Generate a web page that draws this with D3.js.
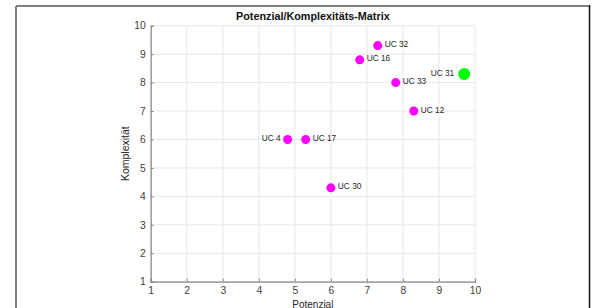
<!DOCTYPE html>
<html><head><meta charset="utf-8">
<script src="https://cdn.jsdelivr.net/npm/d3@7"></script>
<style>body{margin:0;background:#fff;} svg{display:block;font-family:"Liberation Sans",Arial,Helvetica,sans-serif;}</style>
</head><body>
<svg id="c" width="598" height="308"></svg>
<script>
const labels = ["UC 4","UC 17","UC 32","UC 16","UC 33","UC 31","UC 12","UC 30"];
const potenzial = [4.8, 5.3, 7.3, 6.8, 7.8, 9.7, 8.3, 6.0];
const komplexitaet = [6.0, 6.0, 9.3, 8.8, 8.0, 8.3, 7.0, 4.3];
const highlighted = [false,false,false,false,false,true,false,false];
const labelSide = ["left","right","right","right","right","left","right","right"];
const xTicks = [1,2,3,4,5,6,7,8,9,10];
const yTicks = [1,2,3,4,5,6,7,8,9,10];
const title = "Potenzial/Komplexitäts-Matrix";
const xTitle = "Potenzial";
const yTitle = "Komplexität";

const svg = d3.select("#c");
// figure frame
svg.append("line").attr("x1",16).attr("y1",6).attr("x2",16).attr("y2",308).attr("stroke","#808080").attr("stroke-width",2);
svg.append("line").attr("x1",16).attr("y1",6).attr("x2",590).attr("y2",6).attr("stroke","#808080").attr("stroke-width",2);
svg.append("line").attr("x1",589.5).attr("y1",5).attr("x2",589.5).attr("y2",308).attr("stroke","#111").attr("stroke-width",1.5);

const L=150.7, R=475, T=25.7, B=281.7;
const x = d3.scaleLinear().domain([1,10]).range([L,R]);
const y = d3.scaleLinear().domain([1,10]).range([B,T]);

const g = svg.append("g");
// grid
g.selectAll(".gx").data(xTicks).join("line").attr("x1",d=>x(d)).attr("x2",d=>x(d)).attr("y1",T).attr("y2",B).attr("stroke","#e6e6e6").attr("stroke-width",1);
g.selectAll(".gy").data(yTicks).join("line").attr("y1",d=>y(d)).attr("y2",d=>y(d)).attr("x1",L).attr("x2",R).attr("stroke","#e6e6e6").attr("stroke-width",1);

// axes
const xa = svg.append("g").attr("transform",`translate(0,${B})`).call(d3.axisBottom(x).tickValues(xTicks).tickSize(-3).tickPadding(5).tickFormat(d3.format("d")));
const ya = svg.append("g").attr("transform",`translate(${L},0)`).call(d3.axisLeft(y).tickValues(yTicks).tickSize(-3).tickPadding(5).tickFormat(d3.format("d")));
[xa,ya].forEach(a=>{
  a.select(".domain").attr("stroke","#8a8a8a").attr("stroke-width",1.2);
  a.selectAll(".tick line").attr("stroke","#8a8a8a").attr("stroke-width",1);
  a.selectAll("text").attr("fill","#404040").attr("font-size",10.3).attr("font-family","Liberation Sans, Arial, sans-serif");
});

// points
const data = labels.map((l,i)=>({l, px:potenzial[i], py:komplexitaet[i], h:highlighted[i], side:labelSide[i]}));
svg.selectAll("circle.pt").data(data).join("circle").attr("class","pt")
  .attr("cx",d=>x(d.px)).attr("cy",d=>y(d.py))
  .attr("r",d=>d.h?6:4.5).attr("fill",d=>d.h?"#00ff00":"#ff00ff");
svg.selectAll("text.lbl").data(data).join("text").attr("class","lbl")
  .attr("x",d=>x(d.px)+(d.side==="left"?-(d.h?10:7):7))
  .attr("y",d=>y(d.py)+1.5)
  .attr("text-anchor",d=>d.side==="left"?"end":"start")
  .attr("font-size",8.3).attr("fill","#262626").text(d=>d.l);

// titles
svg.append("text").attr("x",(L+R)/2).attr("y",20).attr("text-anchor","middle").attr("font-weight","bold").attr("font-size",10.8).attr("fill","#111").text(title);
svg.append("text").attr("x",(L+R)/2).attr("y",307.5).attr("text-anchor","middle").attr("font-size",10).attr("fill","#262626").text(xTitle);
svg.append("text").attr("transform",`translate(129,${(T+B)/2}) rotate(-90)`).attr("text-anchor","middle").attr("font-size",10.5).attr("fill","#262626").text(yTitle);
</script>
</body></html>
